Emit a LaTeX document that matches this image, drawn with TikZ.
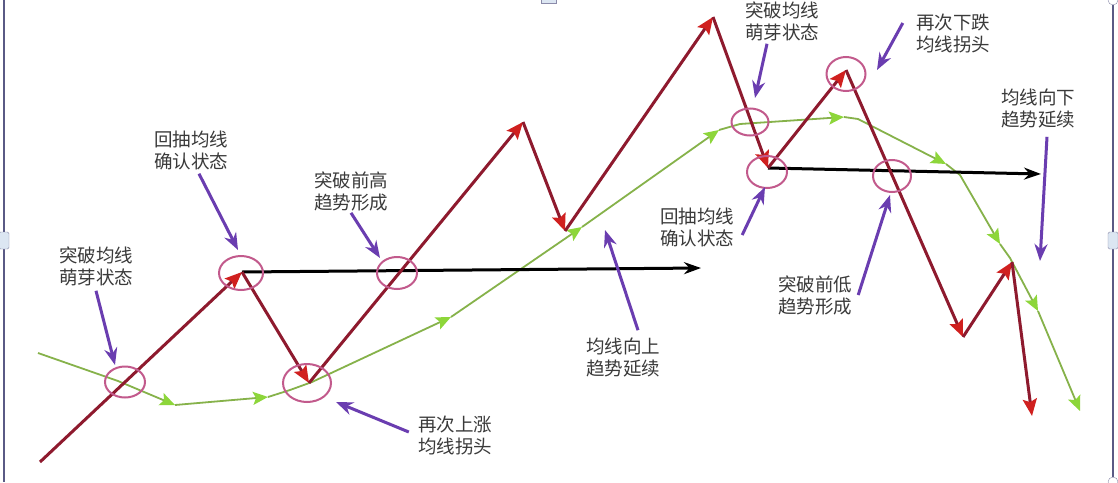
\documentclass[tikz,border=0pt]{standalone}
\usepackage{fontspec}
\usepackage{tikz}
\usetikzlibrary{arrows.meta,calc,shapes.geometric}
\usepackage{xcolor}
\newfontfamily\cjkfont{Noto Sans CJK SC}
\definecolor{PriceRed}{HTML}{8E1A2E}
\definecolor{PriceTip}{HTML}{D0201F}
\definecolor{AverageGreen}{HTML}{86B24A}
\definecolor{AverageTip}{HTML}{8DD63A}
\definecolor{RingMauve}{HTML}{C25A8C}
\definecolor{HintViolet}{HTML}{6A3DB0}
\definecolor{NoteGray}{HTML}{3A3A3A}
\definecolor{FrameBlue}{HTML}{5A5A85}
\definecolor{HandleBlue}{HTML}{DCE6F2}

\begin{document}
\begin{tikzpicture}[x=1pt,y=-1pt,
   price/.style={PriceRed,line width=3pt,-{Stealth[length=17pt,width=14pt,inset=3pt,color=PriceTip]}},
   average/.style={AverageGreen,line width=1.8pt,line join=round,-{Stealth[length=15pt,width=13pt,inset=3pt,color=AverageTip]}},
   level/.style={black,line width=3pt,-{Stealth[length=17pt,width=12pt]}},
   hint/.style={HintViolet,line width=3pt,-{Stealth[length=17pt,width=13pt]}},
   ring/.style={draw=RingMauve,line width=2pt,ellipse,inner sep=0pt},
   note/.style={NoteGray,align=center,inner sep=3pt,font=\cjkfont\fontsize{18.5}{22}\selectfont}]

   \fill[white] (0,0) rectangle (1118,482);
   \useasboundingbox (0,0) rectangle (1118,482);

   \draw[FrameBlue,line width=1.2pt] (4,0) -- (4,482);
   \draw[FrameBlue,line width=1.2pt] (1113,0) -- (1113,482);
   \draw[FrameBlue!70,fill=HandleBlue,rounded corners=1.5pt] (-1,232) rectangle (9,249);
   \draw[FrameBlue!70,fill=HandleBlue,rounded corners=1.5pt] (1108,232) rectangle (1118,249);
   \draw[FrameBlue!70,fill=HandleBlue] (541,-3) rectangle (556,3);
   \draw[FrameBlue!70,fill=white] (1113,0) circle (5pt);
   \draw[FrameBlue!70,fill=white] (1113,482) circle (5pt);

   \coordinate (p0) at (40,462);
   \coordinate (p1) at (242,272);
   \coordinate (p2) at (309,383);
   \coordinate (p3) at (523,122);
   \coordinate (p4) at (565,231);
   \coordinate (p5) at (713,17);
   \coordinate (p6) at (768,168);
   \coordinate (p7) at (846,70);
   \coordinate (p8) at (963,337);
   \coordinate (p9) at (1012,262);
   \coordinate (p10) at (1032,416);

   \coordinate (g0) at (38,353);
   \coordinate (g1) at (118,381);
   \coordinate (g2) at (175,405);
   \coordinate (g3) at (268,397);
   \coordinate (g4) at (290,390);
   \coordinate (g5) at (312,382);
   \coordinate (g6) at (451,317);
   \coordinate (g7) at (582,227);
   \coordinate (g8) at (719,130);
   \coordinate (g9) at (740,124);
   \coordinate (g10) at (844,117);
   \coordinate (g11) at (858,119);
   \coordinate (g12) at (946,164);
   \coordinate (g13) at (960,175);
   \coordinate (g14) at (1000,244);
   \coordinate (g15) at (1010,258);
   \coordinate (g16) at (1038,311);
   \coordinate (g17) at (1080,411);

   \coordinate (l1) at (701,268);
   \coordinate (l2) at (1041,174);

   \draw[average] (g0) -- (g1) -- (g2);
   \draw[average] (g2) -- (g3);
   \draw[average] (g3) -- (g4) -- (g5) -- (g6);
   \draw[average] (g6) -- (g7);
   \draw[average] (g7) -- (g8);
   \draw[average] (g8) -- (g9) -- (g10);
   \draw[average] (g10) -- (g11) -- (g12);
   \draw[average] (g12) -- (g13) -- (g14);
   \draw[average] (g14) -- (g15) -- (g16);
   \draw[average] (g16) -- (g17);

   \draw[level] (p1) -- (l1);
   \draw[level] (p6) -- (l2);

   \draw[price] (p0) -- (p1);
   \draw[price] (p1) -- (p2);
   \draw[price] (p2) -- (p3);
   \draw[price] (p3) -- (p4);
   \draw[price] (p4) -- (p5);
   \draw[price] (p5) -- (p6);
   \draw[price] (p6) -- (p7);
   \draw[price] (p7) -- (p8);
   \draw[price] (p8) -- (p9);
   \draw[price] (p9) -- (p10);

   \node[ring,minimum width=40pt,minimum height=31pt] (o1) at (125,382) {};
   \node[ring,minimum width=44pt,minimum height=34pt] (o2) at (241,273) {};
   \node[ring,minimum width=48pt,minimum height=38pt] (o3) at (307,383) {};
   \node[ring,minimum width=40pt,minimum height=32pt] (o4) at (397,273) {};
   \node[ring,minimum width=37pt,minimum height=27pt] (o5) at (750,122) {};
   \node[ring,minimum width=40pt,minimum height=32pt] (o6) at (767,172) {};
   \node[ring,minimum width=39pt,minimum height=34pt] (o7) at (846,74) {};
   \node[ring,minimum width=38pt,minimum height=32pt] (o8) at (892,176) {};

   \node[note] (t1) at (96,266) {突破均线\\萌芽状态};
   \node[note] (t2) at (191,150) {回抽均线\\确认状态};
   \node[note] (t3) at (351,191) {突破前高\\趋势形成};
   \node[note] (t4) at (455,435) {再次上涨\\均线拐头};
   \node[note] (t5) at (623,358) {均线向上\\趋势延续};
   \node[note] (t6) at (697,227) {回抽均线\\确认状态};
   \node[note] (t7) at (782,21) {突破均线\\萌芽状态};
   \node[note] (t8) at (953,33) {再次下跌\\均线拐头};
   \node[note] (t9) at (1038,109) {均线向下\\趋势延续};
   \node[note] (t10) at (815,295) {突破前低\\趋势形成};

   \coordinate (a1) at (115,365);
   \coordinate (a2) at (238,250);
   \coordinate (a3) at (380,258);
   \coordinate (a4) at (336,402);
   \coordinate (a5) at (605,230);
   \coordinate (a6) at (765,187);
   \coordinate (a7) at (755,98);
   \coordinate (a8) at (877,70);
   \coordinate (a9) at (1040,261);
   \coordinate (a10) at (890,195);

   \draw[hint] ([yshift=-2pt]t1.south) -- (a1);
   \draw[hint] ([xshift=8pt,yshift=-1pt]t2.south) -- (a2);
   \draw[hint] ([yshift=1pt]t3.south) -- (a3);
   \draw[hint] ([xshift=-6pt,yshift=3pt]t4.west) -- (a4);
   \draw[hint] ([xshift=15pt,yshift=5pt]t5.north) -- (a5);
   \draw[hint] ([xshift=5pt,yshift=-8pt]t6.east) -- (a6);
   \draw[hint] ([xshift=-15pt]t7.south) -- (a7);
   \draw[hint] ([xshift=-10pt,yshift=10pt]t8.west) -- (a8);
   \draw[hint] ([xshift=9pt,yshift=-5pt]t9.south) -- (a9);
   \draw[hint] ([xshift=3pt]t10.east) -- (a10);
\end{tikzpicture}
\end{document}
